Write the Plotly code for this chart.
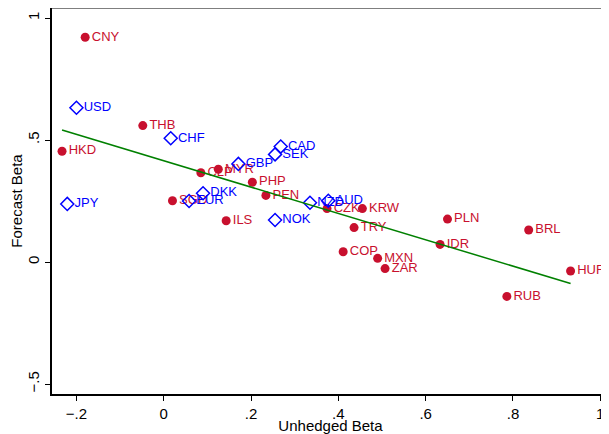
import numpy as np
import plotly.graph_objects as go

# Emerging / other currencies (red dots)
red_labels = ["CNY", "THB", "HKD", "CLP", "MYR", "PHP", "PEN", "SGD", "ILS", "CZK",
              "KRW", "TRY", "PLN", "BRL", "IDR", "COP", "MXN", "ZAR", "RUB", "HUF"]
red_x = [-0.180, -0.048, -0.233, 0.085, 0.125, 0.203, 0.234, 0.020, 0.143, 0.374,
         0.455, 0.436, 0.650, 0.836, 0.633, 0.411, 0.490, 0.507, 0.786, 0.932]
red_y = [0.921, 0.559, 0.454, 0.366, 0.380, 0.327, 0.273, 0.251, 0.169, 0.219,
         0.219, 0.141, 0.176, 0.131, 0.072, 0.042, 0.015, -0.027, -0.141, -0.037]

# Developed currencies (blue hollow diamonds)
blue_labels = ["USD", "CHF", "JPY", "EUR", "DKK", "GBP", "CAD", "SEK", "NOK", "NZD", "AUD"]
blue_x = [-0.200, 0.016, -0.221, 0.058, 0.090, 0.171, 0.268, 0.255, 0.255, 0.335, 0.377]
blue_y = [0.632, 0.507, 0.238, 0.250, 0.282, 0.402, 0.473, 0.441, 0.172, 0.243, 0.251]

x_ticks = [-0.2, 0, 0.2, 0.4, 0.6, 0.8, 1]
x_ticktext = ["\u2212.2", "0", ".2", ".4", ".6", ".8", "1"]
y_ticks = [-0.5, 0, 0.5, 1]
y_ticktext = ["\u2212.5", "0", ".5", "1"]

RED = "#C8102E"
BLUE = "#0000FF"
GREEN = "#008000"
FONT = "Liberation Sans, Arial, Helvetica, sans-serif"

# OLS fitted line over all points
all_x = np.array(red_x + blue_x)
all_y = np.array(red_y + blue_y)
slope, intercept = np.polyfit(all_x, all_y, 1)
fx = np.array([all_x.min(), all_x.max()])
fy = intercept + slope * fx

fig = go.Figure()
fig.add_trace(go.Scatter(
    x=red_x, y=red_y, mode="markers+text", text=red_labels,
    textposition="middle right",
    marker=dict(symbol="circle", size=9, color=RED),
    textfont=dict(family=FONT, size=13, color=RED),
    showlegend=False, cliponaxis=False))
fig.add_trace(go.Scatter(
    x=blue_x, y=blue_y, mode="markers+text", text=blue_labels,
    textposition="middle right",
    marker=dict(symbol="diamond-open", size=10, color=BLUE, line=dict(width=1.5, color=BLUE)),
    textfont=dict(family=FONT, size=13, color=BLUE),
    showlegend=False, cliponaxis=False))
fig.add_trace(go.Scatter(
    x=fx, y=fy, mode="lines", line=dict(color=GREEN, width=1.5),
    showlegend=False, hoverinfo="skip"))

# The page places the figure 8px in from the top-left corner, so the figure is
# sized to end exactly at the window edges.
fig.update_layout(
    width=601, height=426,
    margin=dict(l=44, r=0, t=0, b=40),
    paper_bgcolor="white", plot_bgcolor="white",
    font=dict(family=FONT, size=15, color="black"),
    xaxis=dict(range=[-0.256, 1.020], tickvals=x_ticks, ticktext=x_ticktext,
               automargin=False,
               showgrid=False, zeroline=False, showline=True, linecolor="black",
               linewidth=1.5, ticks="outside", ticklen=5, tickwidth=1, tickcolor="black",
               title=dict(text="Unhedged Beta", font=dict(size=15), standoff=6),
               tickfont=dict(size=15)),
    yaxis=dict(range=[-0.541, 1.041], tickvals=y_ticks, ticktext=y_ticktext,
               automargin=False,
               showgrid=False, zeroline=False, showline=True, linecolor="black",
               linewidth=1.5, ticks="outside", ticklen=5, tickwidth=1, tickcolor="black",
               tickangle=-90,
               title=dict(text="Forecast Beta", font=dict(size=15), standoff=5),
               tickfont=dict(size=15)),
    shapes=[dict(type="line", xref="paper", yref="paper", x0=0, x1=1, y0=1, y1=1,
                 line=dict(color="#555555", width=1.5))],
)

fig.write_html("out.html")
